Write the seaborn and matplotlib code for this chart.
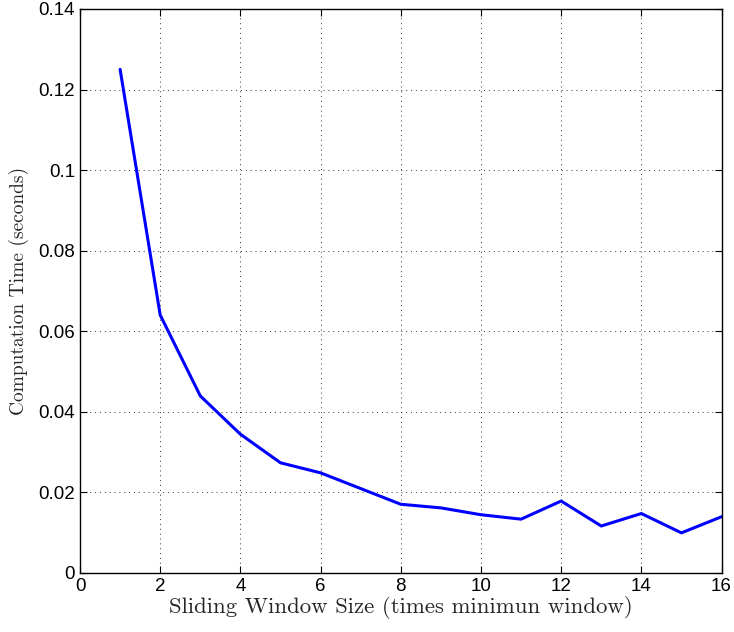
import matplotlib
matplotlib.use("Agg")
import matplotlib.pyplot as plt
import seaborn as sns
import pandas as pd

# Computation time per sliding window size
window_size = [1, 2, 3, 4, 5, 6, 7, 8, 9, 10, 11, 12, 13, 14, 15, 16]
comp_time = [0.125, 0.064, 0.0439, 0.0344, 0.0273, 0.0248, 0.0209, 0.0170,
             0.0161, 0.0144, 0.0133, 0.0178, 0.0116, 0.0147, 0.0099, 0.0139]
x_ticks = [0, 2, 4, 6, 8, 10, 12, 14, 16]
y_ticks = [0, 0.02, 0.04, 0.06, 0.08, 0.1, 0.12, 0.14]
y_tick_labels = ["0", "0.02", "0.04", "0.06", "0.08", "0.1", "0.12", "0.14"]

sns.set_style("white")
plt.rcParams["font.family"] = ["Liberation Sans", "DejaVu Sans"]

df = pd.DataFrame({"window": window_size, "time": comp_time})

fig = plt.figure(figsize=(7.34, 6.32), dpi=100)
ax = fig.add_axes([0.109, 0.0938, 0.874, 0.892])

sns.lineplot(data=df, x="window", y="time", ax=ax, color="#0000ff", linewidth=2.2)

ax.set_xlim(0, 16)
ax.set_ylim(0, 0.14)
ax.set_xticks(x_ticks)
ax.set_xticklabels([str(t) for t in x_ticks])
ax.set_yticks(y_ticks)
ax.set_yticklabels(y_tick_labels)
ax.tick_params(direction="in", length=5, width=0.8, labelsize=13.5,
               top=True, right=True, bottom=True, left=True, colors="black")

ax.grid(True, linestyle=(0, (1, 4)), color="black", linewidth=0.7, alpha=0.8)
for s in ax.spines.values():
    s.set_color("black")
    s.set_linewidth(1.0)
    s.set_visible(True)

ax.set_xlabel("Sliding Window Size (times minimun window)", fontfamily="cmr10",
              fontsize=16.4, labelpad=1)
ax.set_ylabel("Computation Time (seconds)", fontfamily="cmr10", fontsize=14,
              labelpad=7)

fig.savefig("out.png", dpi=100, facecolor="white")
